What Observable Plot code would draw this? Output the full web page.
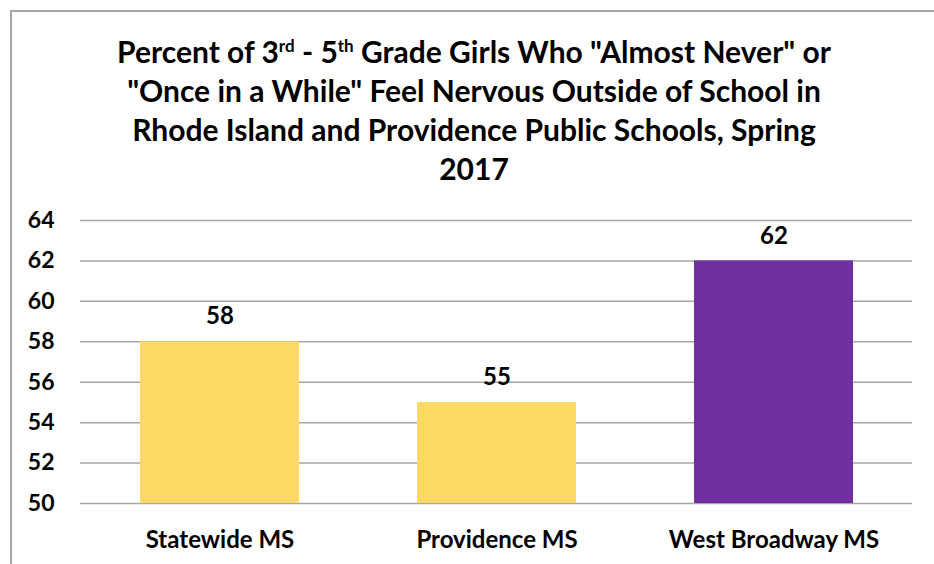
<!DOCTYPE html>
<html>
<head>
<meta charset="utf-8">
<script src="https://cdn.jsdelivr.net/npm/d3@7"></script>
<script src="https://cdn.jsdelivr.net/npm/@observablehq/plot@0.6"></script>
<style>
  html, body { margin: 0; padding: 0; background: #fff; width: 934px; height: 564px; overflow: hidden; }
  #frame { position: absolute; left: 10px; top: 10px; width: 1000px; height: 700px;
           border-left: 2px solid #a6a6a6; border-top: 2px solid #a6a6a6; box-sizing: border-box; }
  #title { position: absolute; left: 0; top: 32px; width: 948px; text-align: center;
           font-family: Lato, "Open Sans", sans-serif; font-weight: bold; font-size: 30px;
           line-height: 39px; color: #000; }
  #title sup { font-size: 17px; line-height: 0; vertical-align: 11px; }
  #chart { position: absolute; left: 0; top: 195px; }
</style>
</head>
<body>
<div id="frame"></div>
<div id="title">Percent of 3<sup>rd</sup> - 5<sup>th</sup> Grade Girls Who "Almost Never" or<br>"Once in a While" Feel Nervous Outside of School in<br>Rhode Island and Providence Public Schools, Spring<br>2017</div>
<div id="chart"></div>
<script>
const categories = ["Statewide MS", "Providence MS", "West Broadway MS"];
const values = [58, 55, 62];
const colors = ["#FFD966", "#FFD966", "#7030A0"];
const yTicks = [50, 52, 54, 56, 58, 60, 62, 64];

const data = categories.map((c, i) => ({category: c, value: values[i], color: colors[i]}));

const chart = Plot.plot({
  width: 934,
  height: 369,
  marginTop: 25,
  marginBottom: 61,
  marginLeft: 80,
  marginRight: 22,
  style: {fontFamily: "Lato, 'Open Sans', sans-serif", fontWeight: "bold", fontSize: "24px", color: "#000", background: "transparent", overflow: "visible"},
  x: {domain: categories, paddingInner: 0.427, paddingOuter: 0.2135, label: null},
  y: {domain: [50, 64], label: null},
  marks: [
    Plot.ruleY(yTicks, {stroke: "#a6a6a6", strokeWidth: 1.5, strokeOpacity: 1}),
    Plot.barY(data, {x: "category", y1: 50, y2: "value", fill: "color"}),
    Plot.text(data, {x: "category", y: "value", text: d => String(d.value), dy: -25, fontSize: 24, fontWeight: "bold", fill: "#000"}),
    Plot.axisY(yTicks, {tickSize: 0, tickPadding: 26, fontSize: 23, fontWeight: "bold", label: null}),
    Plot.axisX({tickSize: 0, tickPadding: 27, fontSize: 24, fontWeight: "bold", label: null})
  ]
});
document.getElementById("chart").appendChild(chart);
</script>
</body>
</html>
